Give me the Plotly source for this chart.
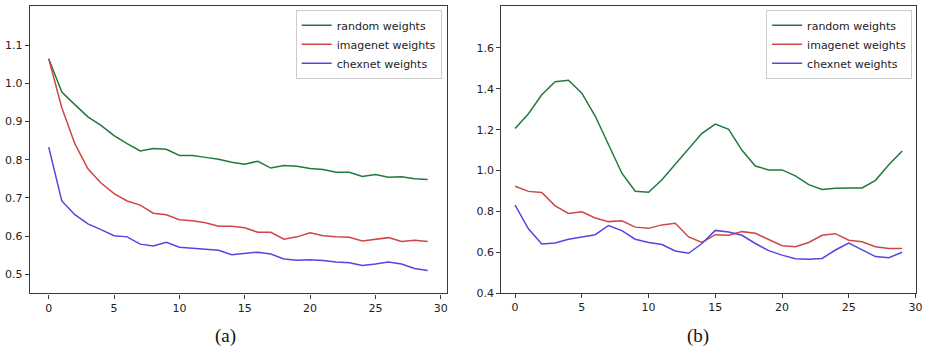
import plotly.graph_objects as go

epochs = list(range(30))

# Panel (a)
a_random = [1.064, 0.977, 0.944, 0.912, 0.890, 0.863, 0.842, 0.823, 0.829, 0.827,
            0.811, 0.811, 0.806, 0.801, 0.793, 0.788, 0.796, 0.778, 0.785, 0.783,
            0.777, 0.774, 0.767, 0.767, 0.756, 0.761, 0.754, 0.755, 0.750, 0.748]
a_imagenet = [1.064, 0.936, 0.842, 0.776, 0.739, 0.711, 0.692, 0.681, 0.660, 0.656,
              0.643, 0.640, 0.635, 0.626, 0.626, 0.622, 0.610, 0.610, 0.592, 0.598,
              0.609, 0.601, 0.598, 0.597, 0.587, 0.592, 0.596, 0.586, 0.589, 0.586]
a_chexnet = [0.833, 0.692, 0.656, 0.632, 0.617, 0.601, 0.598, 0.579, 0.574, 0.584,
             0.571, 0.568, 0.566, 0.563, 0.551, 0.554, 0.558, 0.553, 0.540, 0.537,
             0.538, 0.536, 0.532, 0.530, 0.523, 0.527, 0.532, 0.527, 0.515, 0.510]

# Panel (b)
b_random = [1.206, 1.278, 1.371, 1.435, 1.442, 1.379, 1.267, 1.131, 0.987, 0.899,
            0.894, 0.955, 1.032, 1.107, 1.182, 1.227, 1.202, 1.099, 1.022, 1.003,
            1.003, 0.974, 0.931, 0.907, 0.913, 0.915, 0.915, 0.952, 1.028, 1.096]
b_imagenet = [0.923, 0.898, 0.893, 0.827, 0.790, 0.798, 0.768, 0.750, 0.754, 0.723,
              0.717, 0.734, 0.742, 0.675, 0.648, 0.686, 0.683, 0.701, 0.693, 0.664,
              0.632, 0.627, 0.648, 0.683, 0.691, 0.659, 0.651, 0.627, 0.619, 0.619]
b_chexnet = [0.831, 0.715, 0.641, 0.645, 0.664, 0.675, 0.686, 0.731, 0.706, 0.664,
             0.648, 0.638, 0.606, 0.595, 0.643, 0.707, 0.699, 0.683, 0.643, 0.608,
             0.586, 0.568, 0.566, 0.570, 0.611, 0.645, 0.613, 0.579, 0.573, 0.600]

series_names = ["random weights", "imagenet weights", "chexnet weights"]
colors = ["#1f7a3c", "#cf4646", "#5446e0"]
captions = ["(a)", "(b)"]

W, H = 934, 356
fig = go.Figure()

panels = [
    ("x", "y", "legend", [a_random, a_imagenet, a_chexnet]),
    ("x2", "y2", "legend2", [b_random, b_imagenet, b_chexnet]),
]
for xa, ya, lg, data in panels:
    for name, col, vals in zip(series_names, colors, data):
        fig.add_trace(go.Scatter(x=epochs, y=vals, mode="lines", name=name,
                                 line=dict(color=col, width=1.5),
                                 xaxis=xa, yaxis=ya, legend=lg))

def px_dom_x(a, b):
    return [a / W, b / W]

def px_dom_y(top, bottom):
    return [(H - bottom) / H, (H - top) / H]

axis_common = dict(showline=True, mirror=True, linecolor="#3a3a3a", linewidth=1.2,
                   ticks="outside", ticklen=4, tickcolor="#3a3a3a", showgrid=False,
                   zeroline=False, tickfont=dict(family="DejaVu Sans", size=11, color="#222"))

legend_common = dict(bgcolor="rgba(255,255,255,0.9)", bordercolor="#cccccc", borderwidth=1,
                     font=dict(family="DejaVu Sans", size=11, color="#222"),
                     xanchor="right", yanchor="top", tracegroupgap=0, itemwidth=30)

fig.update_layout(
    width=W, height=H, margin=dict(l=0, r=0, t=0, b=0),
    plot_bgcolor="white", paper_bgcolor="white",
    xaxis=dict(domain=px_dom_x(30, 450), range=[-1.45, 30.45], tickvals=[0, 5, 10, 15, 20, 25, 30],
               anchor="y", **axis_common),
    yaxis=dict(domain=px_dom_y(6, 299.3), range=[0.45, 1.2025],
               tickvals=[0.5, 0.6, 0.7, 0.8, 0.9, 1.0, 1.1], tickformat=".1f",
               anchor="x", **axis_common),
    xaxis2=dict(domain=px_dom_x(505, 922.7), range=[-1.04, 30.02], tickvals=[0, 5, 10, 15, 20, 25, 30],
                anchor="y2", **axis_common),
    yaxis2=dict(domain=px_dom_y(6, 299), range=[0.4, 1.806],
                tickvals=[0.4, 0.6, 0.8, 1.0, 1.2, 1.4, 1.6], tickformat=".1f",
                anchor="x2", **axis_common),
    legend=dict(x=445 / W, y=1 - 10 / H, **legend_common),
    legend2=dict(x=919 / W, y=1 - 10 / H, **legend_common),
    showlegend=True,
)

for cap, cx in zip(captions, [227, 703]):
    fig.add_annotation(text=cap, x=cx / W, y=1 - 343 / H, xref="paper", yref="paper",
                       showarrow=False, xanchor="center", yanchor="middle",
                       font=dict(family="Liberation Serif", size=19, color="#111"))

fig.write_html("out.html", config={"displayModeBar": False},
               post_script="document.body.style.margin='0';")
